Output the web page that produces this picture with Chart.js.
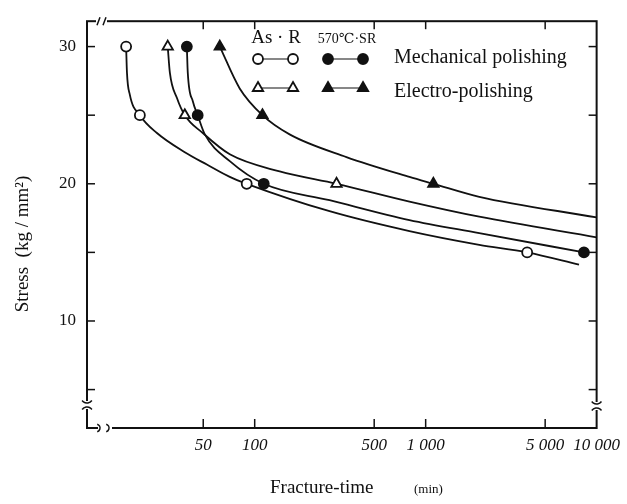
<!DOCTYPE html>
<html>
<head>
<meta charset="utf-8">
<script src="https://cdn.jsdelivr.net/npm/chart.js@4.4.0/dist/chart.umd.min.js"></script>
<style>
  html, body { margin: 0; padding: 0; background: #fff; }
</style>
</head>
<body>
<canvas id="creepChart" width="627" height="504"></canvas>
<script>
// --- Données (temps de rupture en min, contrainte en kg/mm²) ---
const xTicks = [50, 100, 500, 1000, 5000, 10000];
const xTickLabels = ['50', '100', '500', '1 000', '5 000', '10 000'];
const yTicks = [5, 10, 15, 20, 25, 30];
const yLabelled = [10, 20, 30];

// As·R, polissage mécanique (cercles vides)
const asrMechX = [17.7, 21.3, 89.8, 3925];
const asrMechY = [30, 25, 20, 15];
const asrMechCurveX = [17.7, 17.9, 18.6, 21.3, 26.8, 39, 52.5, 71.5, 89.8, 274, 804, 2058, 3925, 7888];
const asrMechCurveY = [30, 28.1, 26.5, 25, 23.7, 22.3, 21.4, 20.5, 20, 18.0, 16.55, 15.55, 15, 14.1];

// 570°C·SR, polissage mécanique (cercles pleins)
const srMechX = [40.1, 46.4, 113, 8430];
const srMechY = [30, 25, 20, 15];
const srMechCurveX = [40.1, 40.6, 43.5, 46.4, 51.1, 71.5, 113, 274, 804, 2058, 8430];
const srMechCurveY = [30, 28.1, 26.0, 25, 23.6, 21.65, 20, 18.8, 17.35, 16.4, 15];

// As·R, électropolissage (triangles vides)
const asrElecX = [31, 39, 301];
const asrElecY = [30, 25, 20];
const asrElecCurveX = [31, 31.9, 35.1, 39, 49.7, 71.5, 140, 301, 804, 2058, 10000];
const asrElecCurveY = [30, 28.1, 26.25, 25, 23.7, 22.15, 20.9, 20, 18.7, 17.6, 16.1];

// 570°C·SR, électropolissage (triangles pleins)
const srElecX = [62.5, 111, 1109];
const srElecY = [30, 25, 20];
const srElecCurveX = [62.5, 81.7, 111, 160, 344, 804, 1109, 2058, 10000];
const srElecCurveY = [30, 26.95, 25, 23.6, 21.95, 20.5, 20, 19.05, 17.55];

const INK = '#111';
const SERIF = '"Liberation Serif", "DejaVu Serif", serif';

function pts(xs, ys) {
    return xs.map((x, i) => ({ x: x, y: ys[i] }));
}

function curve(label, xs, ys) {
    return {
        label: label,
        data: pts(xs, ys),
        borderColor: INK,
        borderWidth: 1.8,
        pointRadius: 0,
        cubicInterpolationMode: 'monotone',
        fill: false,
        order: 2
    };
}

function marks(label, xs, ys, style, filled) {
    return {
        label: label,
        data: pts(xs, ys),
        showLine: false,
        pointStyle: style,
        pointRadius: style === 'triangle' ? 6 : 5,
        pointBackgroundColor: filled ? INK : '#fff',
        pointBorderColor: INK,
        pointBorderWidth: 1.8,
        order: 1
    };
}

// --- Cadre, graduations intérieures, coupures d'axe, titres et légende ---
function seg(c, x1, y1, x2, y2) {
    c.beginPath();
    c.moveTo(x1, y1);
    c.lineTo(x2, y2);
    c.stroke();
}

const framePlugin = {
    id: 'frame',
    afterDatasetsDraw(chart) {
        const c = chart.ctx;
        const a = chart.chartArea;
        const x = chart.scales.x;
        const y = chart.scales.y;
        c.save();
        c.strokeStyle = INK;
        c.fillStyle = INK;
        c.lineWidth = 2;
        c.strokeRect(a.left, a.top, a.right - a.left, a.bottom - a.top);

        c.lineWidth = 1.5;
        yTicks.forEach(v => {
            const py = y.getPixelForValue(v);
            seg(c, a.left, py, a.left + 8, py);
            seg(c, a.right, py, a.right - 8, py);
        });
        xTicks.forEach(v => {
            if (v >= 10000) return;
            const px = x.getPixelForValue(v);
            seg(c, px, a.bottom, px, a.bottom - 9);
            seg(c, px, a.top, px, a.top + 8);
        });

        // coupures
        c.fillStyle = '#fff';
        c.fillRect(a.left + 9, a.top - 3, 11, 6);
        c.fillRect(a.left + 11, a.bottom - 3, 14, 6);
        c.fillRect(a.left - 3, a.bottom - 27, 6, 8);
        c.fillRect(a.right - 3, a.bottom - 26, 6, 8);
        c.lineWidth = 1.5;
        seg(c, a.left + 10, a.top + 4, a.left + 13, a.top - 4);
        seg(c, a.left + 16, a.top + 4, a.left + 19, a.top - 4);
        c.beginPath(); c.arc(a.left + 9, a.bottom, 4, -Math.PI / 2.5, Math.PI / 2.5); c.stroke();
        c.beginPath(); c.arc(a.left + 18, a.bottom, 4, -Math.PI / 2.5, Math.PI / 2.5); c.stroke();
        [a.left, a.right].forEach(px => {
            const py = px === a.left ? a.bottom - 23 : a.bottom - 22;
            c.beginPath(); c.arc(px, py - 8, 6, Math.PI * 0.2, Math.PI * 0.8); c.stroke();
            c.beginPath(); c.arc(px, py + 8, 6, -Math.PI * 0.8, -Math.PI * 0.2); c.stroke();
        });

        // titres des axes
        c.fillStyle = INK;
        c.textBaseline = 'middle';
        c.save();
        c.translate(23, 244);
        c.rotate(-Math.PI / 2);
        c.textAlign = 'center';
        c.font = '19px ' + SERIF;
        c.fillText('Stress  (kg / mm²)', 0, 0);
        c.restore();
        c.textAlign = 'left';
        c.font = '19px ' + SERIF;
        c.fillText('Fracture-time', 270, 488);
        c.font = '13px ' + SERIF;
        c.fillText('(min)', 414, 490);

        // légende
        c.textAlign = 'center';
        c.font = '19px ' + SERIF;
        c.fillText('As · R', 276, 38);
        c.font = '14px ' + SERIF;
        c.fillText('570℃·SR', 347, 39);
        c.textAlign = 'left';
        c.font = '20px ' + SERIF;
        c.fillText('Mechanical polishing', 394, 58);
        c.fillText('Electro-polishing', 394, 92);

        const rows = [
            [59, chart.data.datasets[4], 258, 293],
            [59, chart.data.datasets[5], 328, 363],
            [88, chart.data.datasets[6], 258, 293],
            [88, chart.data.datasets[7], 328, 363]
        ];
        rows.forEach(([py, ds, x1, x2]) => {
            c.strokeStyle = INK;
            c.lineWidth = 1.2;
            seg(c, x1, py, x2, py);
            c.fillStyle = ds.pointBackgroundColor;
            c.strokeStyle = INK;
            c.lineWidth = ds.pointBorderWidth;
            [x1, x2].forEach(px => {
                Chart.helpers.drawPoint(c, { pointStyle: ds.pointStyle, radius: ds.pointRadius, rotation: 0, borderWidth: ds.pointBorderWidth }, px, py);
            });
        });
        c.restore();
    }
};

new Chart(document.getElementById('creepChart').getContext('2d'), {
    type: 'line',
    data: {
        datasets: [
            curve('As·R mech', asrMechCurveX, asrMechCurveY),
            curve('570 SR mech', srMechCurveX, srMechCurveY),
            curve('As·R elec', asrElecCurveX, asrElecCurveY),
            curve('570 SR elec', srElecCurveX, srElecCurveY),
            marks('As·R — Mechanical polishing', asrMechX, asrMechY, 'circle', false),
            marks('570℃·SR — Mechanical polishing', srMechX, srMechY, 'circle', true),
            marks('As·R — Electro-polishing', asrElecX, asrElecY, 'triangle', false),
            marks('570℃·SR — Electro-polishing', srElecX, srElecY, 'triangle', true)
        ]
    },
    options: {
        responsive: false,
        animation: false,
        devicePixelRatio: 1,
        layout: { padding: { top: 15, right: 29, left: 0, bottom: 0 } },
        plugins: {
            legend: { display: false },
            tooltip: { enabled: false }
        },
        scales: {
            x: {
                type: 'logarithmic',
                min: 10.45,
                max: 10000,
                grid: { display: false, drawTicks: false },
                border: { display: false },
                afterBuildTicks: s => { s.ticks = xTicks.map(v => ({ value: v })); },
                afterFit: s => { s.height = 76; },
                ticks: {
                    autoSkip: false,
                    maxRotation: 0,
                    padding: 7,
                    color: INK,
                    font: { family: SERIF, size: 17, style: 'italic' },
                    callback: v => xTickLabels[xTicks.indexOf(v)] || ''
                }
            },
            y: {
                min: 2.2,
                max: 31.85,
                grid: { display: false, drawTicks: false },
                border: { display: false },
                afterBuildTicks: s => { s.ticks = yTicks.map(v => ({ value: v })); },
                afterFit: s => { s.width = 87; },
                ticks: {
                    padding: 11,
                    color: INK,
                    font: { family: SERIF, size: 17 },
                    callback: v => yLabelled.includes(v) ? String(v) : ''
                }
            }
        }
    },
    plugins: [framePlugin]
});
</script>
</body>
</html>
